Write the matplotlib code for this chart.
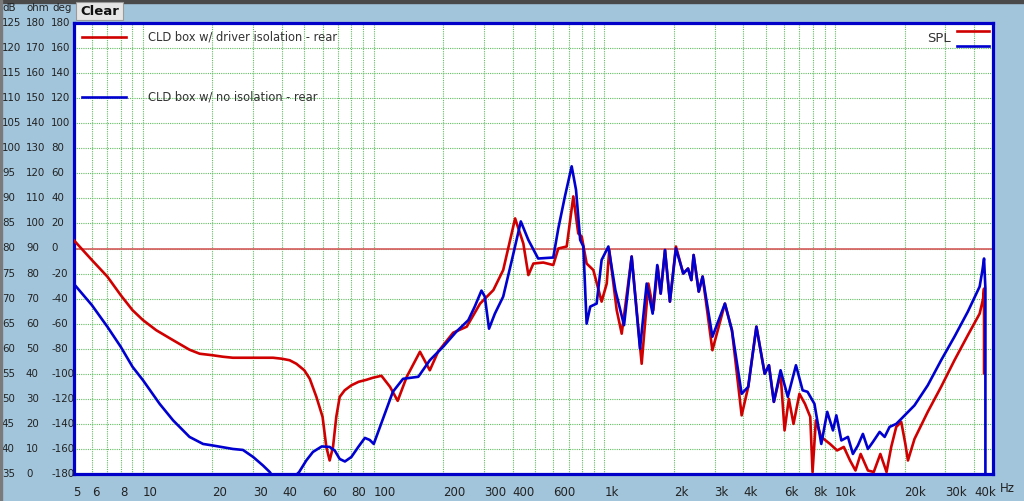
import numpy as np
import matplotlib.pyplot as plt
from matplotlib.patches import Rectangle

# traced response data (Hz, dB)
red_f = [5, 6, 7, 8, 9, 10, 11.4, 13.5, 15.9, 17.6, 20, 22.2, 24.5, 30, 36.6, 40, 43.2, 46.2, 50, 52.8,
         56.4, 60, 62.3, 64.4, 66.6, 68.8, 71.2, 74.8, 80, 86, 93, 99, 108, 117.6, 127, 139, 158.6,
         175, 190, 221, 253, 289, 330, 364, 410, 445, 468, 492, 543, 600, 631, 686, 733, 770, 797,
         837, 895, 972, 1023, 1049, 1130, 1188, 1312, 1450, 1550, 1629, 1702, 1753, 1830, 1922, 2041,
         2196, 2303, 2381, 2435, 2563, 2664, 2937, 3328, 3569, 3933, 4200, 4557, 4950, 5164, 5424,
         5800, 6035, 6300, 6600, 7000, 7400, 7800, 7980, 8250, 8700, 9500, 10200, 10900, 11600,
         12250, 12900, 13870, 14700, 15700, 16700, 17500, 18400, 19340, 20150, 20680, 22080, 25200,
         28800, 32900, 37600, 42300, 43800, 44200, 44200]
red_db = [81.7, 77.7, 74.4, 70.7, 67.7, 65.7, 63.7, 61.7, 59.8, 59.0, 58.7, 58.4, 58.2, 58.2, 58.2, 58.0, 57.7, 57.0, 55.7, 54.0,
          50.4, 46.4, 40.4, 37.7, 40.4, 46.4, 50.4, 51.7, 52.7, 53.4, 53.8, 54.2, 54.6, 52.4, 49.6, 54.4, 59.4,
          55.7, 59.4, 63.2, 64.4, 69.0, 71.7, 75.7, 86.0, 81.0, 74.7, 77.0, 77.2, 76.7, 80.0, 80.4, 90.4, 83.0, 82.4,
          77.0, 75.7, 69.4, 73.0, 79.7, 67.7, 63.0, 78.4, 57.0, 73.0, 67.7, 76.4, 71.0, 79.7, 69.4, 80.4,
          75.0, 76.0, 73.7, 78.7, 71.4, 74.4, 59.7, 69.0, 63.7, 46.7, 52.4, 64.4, 55.0, 56.7, 49.4,
          55.0, 43.7, 50.0, 45.0, 51.0, 49.0, 46.4, 35.4, 45.7, 42.4, 41.0, 39.7, 40.4, 37.7,
          35.7, 39.0, 35.7, 35.4, 39.0, 35.4, 40.4, 44.4, 45.4, 41.0, 37.7, 42.0, 47.4,
          52.4, 57.7, 62.7, 67.0, 70.0, 72.0, 55.1]

blue_f = [5, 6, 7, 8, 9, 10, 11.8, 13.5, 15.9, 18.2, 20, 24.5, 27.1, 30, 33.1, 35.4, 40, 47.5, 51, 54.5,
          59.5, 64.4, 67.7, 71.2, 75, 80, 86, 91.5, 96, 100, 109, 121, 134, 156, 175, 200, 228, 257,
          274, 293, 303, 316, 335, 364, 397, 434, 468, 516, 600, 631, 674, 721, 753, 785, 810, 837,
          868, 895, 925, 972, 1040, 1115, 1216, 1312, 1426, 1524, 1618, 1694, 1753, 1830, 1922, 2041,
          2196, 2303, 2381, 2435, 2563, 2664, 2937, 3328, 3569, 3933, 4200, 4557, 4950, 5164, 5424,
          5800, 6234, 6763, 7228, 7592, 8133, 8708, 9242, 9784, 10120, 10640, 11360, 11940, 12550,
          13190, 13870, 14580, 15590, 16390, 17220, 18400, 19340, 22080, 25200, 28800, 32900, 37600,
          42300, 43500, 44200, 44800, 44800]
blue_db = [73.0, 68.7, 64.4, 60.4, 56.4, 53.7, 49.0, 45.7, 42.4, 41.0, 40.7, 40.0, 39.8, 38.4, 36.7, 35.4, 32.0, 35.4, 37.7, 39.4,
           40.5, 40.4, 39.7, 38.0, 37.5, 38.4, 40.5, 42.2, 41.8, 41.0, 45.7, 51.4, 54.0, 54.4, 57.7, 60.4, 63.4, 65.7,
           68.4, 71.6, 70.4, 64.0, 67.0, 70.4, 77.7, 85.4, 81.7, 78.0, 78.2, 84.0, 90.4, 96.4, 91.7, 81.7, 80.4, 65.0,
           68.4, 68.7, 69.0, 77.7, 80.4, 71.7, 64.7, 78.4, 60.0, 73.0, 67.0, 76.7, 71.0, 79.7, 69.4, 80.0,
           75.0, 76.0, 73.7, 78.7, 71.4, 74.4, 62.4, 69.0, 63.7, 51.0, 52.4, 64.4, 55.0, 56.7, 49.4,
           55.7, 50.4, 56.7, 51.7, 51.4, 49.0, 41.0, 47.4, 43.7, 46.7, 41.7, 42.4, 39.0, 40.7,
           43.0, 40.0, 41.4, 43.4, 42.4, 44.4, 45.0, 46.0, 48.7, 52.7, 57.7, 62.4, 67.4,
           72.4, 75.7, 78.0, 72.0, 30.0]

grid_f = [6, 7, 8, 9, 10, 20, 30, 40, 50, 60, 70, 80, 90, 100, 200, 300, 400, 500, 600, 700, 800, 900,
          1000, 2000, 3000, 4000, 5000, 6000, 7000, 8000, 9000, 10000, 20000, 30000, 40000]
xlab_f = [5, 6, 8, 10, 20, 30, 40, 60, 80, 100, 200, 300, 400, 600, 1000, 2000, 3000, 4000, 6000,
          8000, 10000, 20000, 30000, 40000]
xlab_txt = ["5", "6", "8", "10", "20", "30", "40", "60", "80", "100", "200", "300", "400", "600",
            "1k", "2k", "3k", "4k", "6k", "8k", "10k", "20k", "30k", "40k"]

db_ticks = list(range(125, 30, -5))
ohm_ticks = list(range(180, -10, -10))
deg_ticks = list(range(180, -200, -20))

bg = "#A2C5DB"
W, H = 1024, 501
fig = plt.figure(figsize=(W / 100, H / 100), dpi=100, facecolor=bg)

# frame decoration
fig.patches.append(Rectangle((0, 1 - 2.5 / H), 1, 2.5 / H, transform=fig.transFigure, color="#4a4a4a", zorder=0))
fig.patches.append(Rectangle((0, 0), 2 / W, 1, transform=fig.transFigure, color="#7a7a7a", zorder=0))

left, right, top, bot = 73.6, 993, 23, 474
ax = fig.add_axes([left / W, 1 - bot / H, (right - left) / W, (bot - top) / H])
ax.set_facecolor("white")
ax.set_xscale("log")
ax.set_xlim(5, 5 * 10 ** ((right - left) / 230.7))
ax.set_ylim(35, 125)

gcol = "#62BE62"
for f in grid_f:
    ax.axvline(f, color=gcol, lw=0.8, ls=(0, (1, 1)), zorder=1)
for d in db_ticks[1:-1]:
    ax.axhline(d, color=gcol, lw=0.8, ls=(0, (1, 1)), zorder=1)
ax.axhline(80, color="#D65A5A", lw=1.2, zorder=2)

ax.plot(red_f, red_db, color="#D00000", lw=1.9, zorder=3, solid_joinstyle="round")
ax.plot(blue_f, blue_db, color="#0000D0", lw=1.9, zorder=4, solid_joinstyle="round")

for s in ax.spines.values():
    s.set_color("#0000C8")
    s.set_linewidth(2.3)
ax.set_xticks([])
ax.set_yticks([])
ax.minorticks_off()

# x labels, left aligned at their grid lines
for f, t in zip(xlab_f, xlab_txt):
    ax.text(f, -0.026, t, transform=ax.get_xaxis_transform(), ha="left", va="top",
            fontsize=8.5, color="#222222")
fig.text(1000 / W, 1 - 489 / H, "Hz", ha="left", va="center", fontsize=8.5, color="#222222")

# three y label columns
ytr = ax.get_yaxis_transform()
for d, o, g in zip(db_ticks, ohm_ticks, deg_ticks):
    ax.text((2 - left) / (right - left), d, str(d), transform=ytr, ha="left", va="center",
            fontsize=7.4, color="#222222")
    ax.text((26 - left) / (right - left), d, str(o), transform=ytr, ha="left", va="center",
            fontsize=7.4, color="#222222")
    ax.text((51 - left) / (right - left), d, str(g), transform=ytr, ha="left", va="center",
            fontsize=7.4, color="#222222")
for xp, t in [(2, "dB"), (26, "ohm"), (52, "deg")]:
    fig.text(xp / W, 1 - 8 / H, t, ha="left", va="center", fontsize=7.4, color="#222222")

# Clear button
fig.patches.append(Rectangle((76 / W, 1 - 20 / H), 47 / W, 18 / H, transform=fig.transFigure,
                             facecolor="#E6E6E6", edgecolor="#9a9a9a", lw=0.8, zorder=1))
fig.text(99.5 / W, 1 - 11.5 / H, "Clear", ha="center", va="center", fontsize=9.5,
         fontweight="bold", color="#111111")

# legend entries
def fx(px):
    return (px - left) / (right - left)

def fy(py):
    return (bot - py) / (bot - top)

ax.plot([fx(82), fx(126)], [fy(37), fy(37)], transform=ax.transAxes, color="#D00000", lw=1.9, zorder=5)
ax.plot([fx(82), fx(126)], [fy(97), fy(97)], transform=ax.transAxes, color="#0000D0", lw=1.9, zorder=5)
ax.text(fx(148), fy(37), "CLD box w/ driver isolation - rear", transform=ax.transAxes,
        ha="left", va="center", fontsize=8.3, color="#333333", zorder=5)
ax.text(fx(148), fy(97), "CLD box w/ no isolation - rear", transform=ax.transAxes,
        ha="left", va="center", fontsize=8.3, color="#333333", zorder=5)
ax.text(fx(927), fy(39), "SPL", transform=ax.transAxes, ha="left", va="center",
        fontsize=9.5, color="#333333", zorder=5)
ax.plot([fx(957), fx(989)], [fy(31), fy(31)], transform=ax.transAxes, color="#D00000", lw=1.9, zorder=5)
ax.plot([fx(957), fx(989)], [fy(46), fy(46)], transform=ax.transAxes, color="#0000D0", lw=1.9, zorder=5)

fig.savefig("out.png", dpi=100, facecolor=bg)
